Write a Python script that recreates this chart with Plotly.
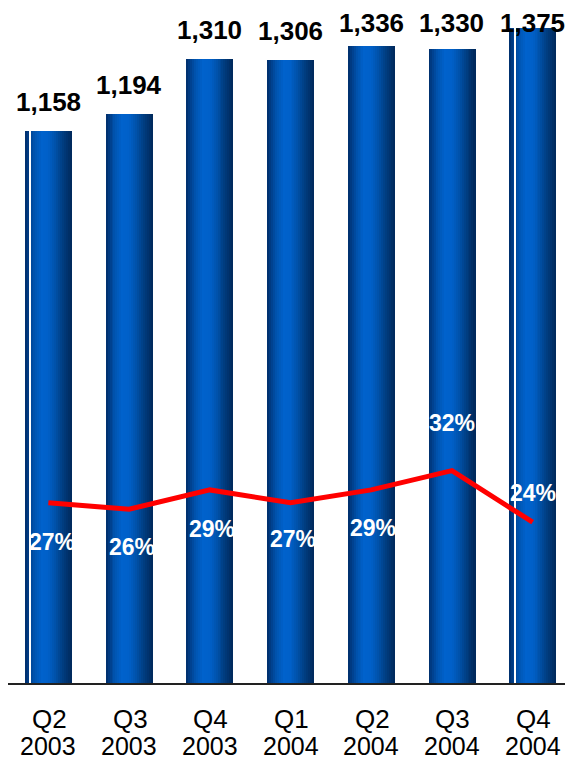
import plotly.graph_objects as go

quarters = ["Q2", "Q3", "Q4", "Q1", "Q2", "Q3", "Q4"]
years = ["2003", "2003", "2003", "2004", "2004", "2004", "2004"]
categories = [q + " " + y for q, y in zip(quarters, years)]
bar_values = [1158, 1194, 1310, 1306, 1336, 1330, 1375]
pct_values = [27, 26, 29, 27, 29, 32, 24]
bar_labels = ["1,158", "1,194", "1,310", "1,306", "1,336", "1,330", "1,375"]
pct_labels = ["27%", "26%", "29%", "27%", "29%", "32%", "24%"]

# styling
FIG_W, FIG_H = 565, 754
PLOT_H = 675
Y_MAX = 1416
BAR_W = 0.58
pct_shift = [-39, -38, -39, -36, -38, 48, 29]
pct_xshift = [4, 3, 2, 2, 2, 0, 0]

grad = [
    (0.00, (0, 44, 104)),
    (0.08, (0, 62, 136)),
    (0.20, (0, 84, 176)),
    (0.35, (0, 98, 204)),
    (0.50, (0, 96, 200)),
    (0.65, (0, 82, 170)),
    (0.80, (0, 62, 130)),
    (1.00, (0, 40, 90)),
]


def color_at(t):
    for (t0, c0), (t1, c1) in zip(grad[:-1], grad[1:]):
        if t0 <= t <= t1:
            f = (t - t0) / (t1 - t0) if t1 > t0 else 0
            c = [round(a + (b - a) * f) for a, b in zip(c0, c1)]
            return "rgb(%d,%d,%d)" % tuple(c)
    return "rgb(%d,%d,%d)" % grad[-1][1]


fig = go.Figure()
N = 24
sw = BAR_W / N
for i in range(N):
    t = (i + 0.5) / N
    fig.add_trace(go.Bar(
        x=categories, y=bar_values,
        width=sw * 1.15, offset=-BAR_W / 2 + i * sw,
        marker=dict(color=color_at(t), line=dict(width=0)),
        hoverinfo="skip", showlegend=False,
    ))

# thin white highlight line on first and last bars
white_vals = [v if k in (0, len(bar_values) - 1) else None for k, v in enumerate(bar_values)]
fig.add_trace(go.Bar(
    x=categories, y=white_vals,
    width=0.014, offset=-BAR_W / 2 + 0.062,
    marker=dict(color="white", line=dict(width=0)),
    hoverinfo="skip", showlegend=False,
))

fig.add_trace(go.Scatter(
    x=categories, y=pct_values, yaxis="y2", mode="lines",
    line=dict(color="#ff0000", width=5), showlegend=False, hoverinfo="skip",
))

annotations = []
ppu = PLOT_H / Y_MAX
for k, (c, v, lab) in enumerate(zip(categories, bar_values, bar_labels)):
    top_px = PLOT_H - v * ppu
    shift = min(29, top_px - 15)
    annotations.append(dict(
        x=c, y=v, xref="x", yref="y", text="<b>%s</b>" % lab, showarrow=False,
        yanchor="middle", yshift=shift,
        font=dict(family="Liberation Sans, Arial", size=26, color="black"),
    ))
for k, (c, v, lab) in enumerate(zip(categories, pct_values, pct_labels)):
    annotations.append(dict(
        x=c, y=v, xref="x", yref="y2", text="<b>%s</b>" % lab, showarrow=False,
        yanchor="middle", yshift=pct_shift[k], xshift=pct_xshift[k],
        font=dict(family="Liberation Sans, Arial", size=23, color="white"),
    ))
# two-line category labels
for c, q, y in zip(categories, quarters, years):
    annotations.append(dict(
        x=c, y=0, xref="x", yref="paper", text=q, showarrow=False,
        yanchor="middle", yshift=-36, xshift=1,
        font=dict(family="Liberation Sans, Arial", size=26, color="black"),
    ))
    annotations.append(dict(
        x=c, y=0, xref="x", yref="paper", text=y, showarrow=False,
        yanchor="middle", yshift=-63,
        font=dict(family="Liberation Sans, Arial", size=25, color="black"),
    ))

fig.update_layout(
    width=FIG_W, height=FIG_H,
    margin=dict(l=0, r=0, t=0, b=FIG_H - PLOT_H, pad=0),
    paper_bgcolor="white", plot_bgcolor="white",
    barmode="overlay", bargap=0,
    xaxis=dict(
        type="category", range=[-0.5, 6.5], showgrid=False,
        showline=True, linecolor="#222222", linewidth=2,
        ticks="", showticklabels=False,
        fixedrange=True,
    ),
    yaxis=dict(range=[0, Y_MAX], visible=False, showgrid=False, fixedrange=True),
    yaxis2=dict(range=[-0.93, 103.7], overlaying="y", visible=False, showgrid=False, fixedrange=True),
    annotations=annotations,
)

fig.write_html("out.html")
